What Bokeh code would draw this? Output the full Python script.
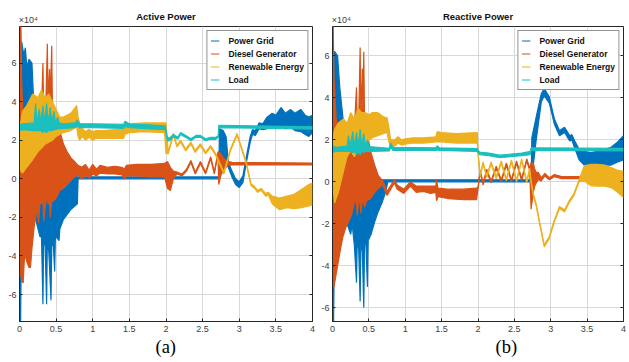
from bokeh.plotting import figure
from bokeh.models import Legend, LegendItem, FixedTicker, LinearAxis, Title
from bokeh.layouts import row
from bokeh.embed import file_html
from bokeh.resources import INLINE

# ---------------- data (values in units of 1e4) ----------------
SERIES_NAMES = ["Power Grid", "Diesel Generator", "Renewable Energy", "Load"]
SERIES_COLORS = ["#0072BD", "#D95319", "#EDB120", "#1BBFBD"]

X_TICKS = [0, 0.5, 1, 1.5, 2, 2.5, 3, 3.5, 4]
X_TICK_LABELS = ["0", "0.5", "1", "1.5", "2", "2.5", "3", "3.5", "4"]
Y_TICKS = [-6, -4, -2, 0, 2, 4, 6]
Y_TICK_LABELS = ["-6", "-4", "-2", "0", "2", "4", "6"]
EXP_LABEL = "×10⁴"

# each entry: (time s, lower envelope, upper envelope)
AP_GRID = [
    (0.00, -7.4, 0.0), (0.015, -7.4, 7.1), (0.03, -2.0, 7.1), (0.06, -2.5, 6.4),
    (0.08, -2.0, 6.8), (0.10, -2.0, 5.8), (0.13, -1.5, 6.2), (0.17, -1.5, 6.0),
    (0.20, -1.8, 3.5), (0.24, -2.4, 2.5), (0.28, -3.0, 2.0), (0.30, -3.0, 1.5),
    (0.32, -6.5, 1.5), (0.33, -3.0, 1.5), (0.35, -3.5, 1.5), (0.37, -6.5, 1.5),
    (0.38, -3.2, 1.5), (0.40, -3.8, 1.5), (0.43, -6.3, 1.5), (0.44, -3.5, 1.5),
    (0.46, -3.3, 1.2), (0.48, -4.8, 1.0), (0.49, -3.0, 1.0), (0.52, -3.1, 0.8),
    (0.54, -3.2, 0.6), (0.55, -2.6, 0.5), (0.60, -2.1, 0.3), (0.70, -1.6, 0.2),
    (0.79, -1.3, 0.1), (0.80, 0.0, 0.1), (2.72, 0.0, 0.1), (2.73, 0.3, 2.6),
    (2.78, 0.6, 2.5), (2.82, 1.0, 2.2), (2.85, 0.6, 0.9), (2.90, 0.1, 0.4),
    (2.95, -0.3, 0.0), (3.00, -0.45, -0.15), (3.05, -0.2, 0.15), (3.10, 0.9, 1.2),
    (3.15, 1.9, 2.2), (3.18, 2.3, 2.55), (3.22, 2.25, 2.5), (3.27, 2.6, 2.9),
    (3.32, 2.55, 2.85), (3.38, 2.6, 3.2), (3.45, 2.7, 3.4), (3.50, 2.6, 3.3),
    (3.57, 2.7, 3.7), (3.63, 2.6, 3.4), (3.70, 2.7, 3.6), (3.76, 2.5, 3.4),
    (3.84, 2.45, 3.6), (3.90, 2.3, 3.3), (3.95, 2.2, 3.2), (4.00, 2.4, 3.3),
]
AP_DIESEL = [
    (0.00, 0.0, 7.9), (0.01, -5.0, 7.9), (0.02, -5.0, 7.9), (0.03, -5.3, 5.0),
    (0.05, -5.4, 3.0), (0.07, -3.9, 2.5), (0.10, -4.3, 2.0), (0.13, -4.6, 3.0),
    (0.15, -4.6, 2.5), (0.17, -3.6, 3.0), (0.20, -2.5, 3.5), (0.24, -1.5, 3.0),
    (0.26, -2.3, 3.2), (0.28, -1.2, 3.5), (0.30, -1.3, 3.5), (0.32, -1.2, 6.0),
    (0.33, -2.2, 3.5), (0.36, -1.2, 4.0), (0.38, -1.1, 7.0), (0.39, -1.3, 4.0),
    (0.41, -1.2, 5.7), (0.42, -2.0, 4.0), (0.44, -1.1, 6.9), (0.45, -1.2, 3.5),
    (0.50, -1.0, 3.0), (0.55, -0.6, 2.5), (0.60, -0.5, 1.8), (0.65, -0.3, 1.4),
    (0.70, -0.1, 1.1), (0.75, 0.1, 0.9), (0.80, 0.2, 0.7), (0.85, 0.0, 0.6),
    (0.90, 0.2, 0.75), (0.95, 0.05, 0.45), (1.00, 0.25, 0.75), (1.05, 0.15, 0.5),
    (1.10, 0.3, 0.7), (1.20, 0.25, 0.6), (1.30, 0.25, 0.65), (1.40, 0.2, 0.6),
    (1.43, 0.0, 0.5), (1.46, 0.15, 0.7), (1.60, 0.15, 0.75), (1.80, 0.1, 0.75),
    (1.98, 0.1, 0.8), (2.02, -0.5, 0.9), (2.06, -0.6, 0.6), (2.10, 0.0, 0.4),
    (2.15, 0.25, 0.35), (2.22, 0.15, 0.25), (2.28, 0.4, 0.5), (2.34, 0.85, 0.95),
    (2.40, 0.25, 0.35), (2.47, 0.8, 0.9), (2.54, 0.25, 0.35), (2.61, 1.05, 1.15),
    (2.66, 0.25, 0.35), (2.71, 1.3, 1.4), (2.72, -0.3, 1.4), (2.75, 0.2, 1.3),
    (2.78, 0.4, 1.1), (2.82, 0.6, 0.95), (2.86, 0.7, 0.9), (2.90, 0.72, 0.85),
    (4.00, 0.72, 0.82),
]
AP_RENEW = [
    (0.00, 0.5, 2.5), (0.04, 0.3, 3.5), (0.10, 0.6, 3.8), (0.18, 1.0, 4.4),
    (0.25, 1.4, 4.2), (0.30, 1.6, 4.6), (0.35, 1.8, 4.2), (0.40, 1.9, 4.4),
    (0.45, 2.0, 4.0), (0.50, 2.2, 3.6), (0.55, 2.3, 3.2), (0.60, 2.4, 3.2),
    (0.70, 2.5, 3.4), (0.78, 2.7, 3.8), (0.80, 2.2, 3.2), (0.82, 2.0, 2.9),
    (0.86, 2.2, 2.6), (0.90, 2.0, 2.45), (0.95, 2.15, 2.55), (1.00, 2.0, 2.45),
    (1.05, 2.1, 2.5), (1.15, 2.1, 2.5), (1.30, 2.1, 2.55), (1.42, 2.1, 2.55),
    (1.44, 2.3, 2.9), (1.50, 2.4, 2.85), (1.70, 2.45, 2.9), (1.98, 2.4, 2.9),
    (2.00, 1.3, 2.9), (2.03, 1.3, 1.4), (2.10, 2.25, 2.35), (2.15, 1.65, 1.75),
    (2.20, 1.9, 2.0), (2.27, 1.45, 1.55), (2.34, 1.8, 1.9), (2.40, 1.37, 1.47),
    (2.47, 1.72, 1.82), (2.54, 1.29, 1.39), (2.61, 1.63, 1.73), (2.68, 1.2, 1.3),
    (2.72, 0.85, 0.95), (2.79, 0.25, 0.35), (2.88, 1.45, 1.55), (2.97, 2.25, 2.35),
    (3.09, 0.85, 0.95), (3.16, -0.35, -0.25), (3.21, -0.5, -0.4), (3.25, -0.7, -0.6),
    (3.30, -0.6, -0.5), (3.36, -0.9, -0.75), (3.40, -0.85, -0.7), (3.45, -1.3, -0.9),
    (3.55, -1.6, -1.0), (3.65, -1.5, -0.9), (3.75, -1.55, -0.8), (3.85, -1.5, -0.55),
    (3.95, -1.4, -0.3), (4.00, -1.35, -0.22),
]
AP_LOAD = [
    (0.00, 2.5, 2.8), (0.05, 2.55, 2.85), (0.20, 2.5, 2.9), (0.22, 2.5, 3.9),
    (0.24, 2.5, 2.9), (0.27, 2.5, 3.6), (0.29, 2.5, 2.9), (0.32, 2.4, 3.8),
    (0.34, 2.5, 2.9), (0.37, 2.4, 3.9), (0.39, 2.5, 2.9), (0.42, 2.5, 3.7),
    (0.44, 2.5, 2.9), (0.47, 2.55, 3.5), (0.49, 2.55, 2.9), (0.52, 2.6, 3.2),
    (0.54, 2.6, 2.9), (0.60, 2.62, 2.85), (0.76, 2.65, 2.9), (0.79, 2.75, 3.05),
    (0.82, 2.65, 2.85), (1.00, 2.65, 2.85), (1.42, 2.62, 2.82), (1.44, 2.72, 2.98),
    (1.50, 2.65, 2.85), (1.99, 2.55, 2.75), (2.02, 1.95, 2.1), (2.06, 2.0, 2.15),
    (2.10, 2.2, 2.3), (2.16, 2.05, 2.15), (2.20, 2.3, 2.4), (2.27, 2.15, 2.25),
    (2.34, 1.98, 2.08), (2.41, 2.15, 2.25), (2.47, 2.15, 2.25), (2.54, 1.98, 2.08),
    (2.61, 2.05, 2.15), (2.68, 2.05, 2.15), (2.715, 2.15, 2.25), (2.72, 2.65, 2.77),
    (4.00, 2.58, 2.7),
]

RP_GRID = [
    (0.00, -6.65, 0.0), (0.015, -6.65, 6.2), (0.03, -2.0, 6.2), (0.07, -1.5, 6.0),
    (0.10, -1.5, 4.5), (0.13, -1.5, 3.5), (0.16, -2.0, 2.5), (0.20, -2.0, 2.0),
    (0.25, -2.5, 1.5), (0.27, -2.0, 1.5), (0.30, -3.0, 1.2), (0.33, -4.8, 1.0),
    (0.34, -2.8, 1.0), (0.36, -3.2, 1.0), (0.38, -5.7, 1.0), (0.39, -3.0, 1.0),
    (0.41, -3.3, 0.8), (0.43, -6.0, 0.8), (0.44, -3.0, 0.8), (0.46, -3.0, 0.6),
    (0.48, -5.0, 0.5), (0.49, -2.8, 0.5), (0.53, -2.5, 0.4), (0.58, -1.9, 0.3),
    (0.62, -1.5, 0.2), (0.68, -1.0, 0.1), (0.73, -0.5, 0.1), (0.76, 0.0, 0.1),
    (2.73, 0.0, 0.1), (2.74, 0.2, 2.1), (2.80, 2.0, 3.1), (2.87, 3.8, 4.2),
    (2.91, 4.1, 4.45), (2.98, 3.75, 4.05), (3.05, 2.75, 3.0), (3.12, 2.2, 2.45),
    (3.19, 2.35, 2.6), (3.26, 1.95, 2.2), (3.29, 2.0, 2.25), (3.33, 1.6, 1.95),
    (3.39, 1.05, 1.55), (3.46, 0.8, 1.45), (3.55, 0.85, 1.4), (3.64, 0.85, 1.45),
    (3.74, 0.8, 1.55), (3.83, 0.8, 1.65), (3.92, 0.95, 1.9), (4.00, 1.05, 2.2),
]
RP_DIESEL = [
    (0.00, 0.0, 7.4), (0.01, -5.0, 7.4), (0.02, -5.0, 5.0), (0.05, -4.4, 3.0),
    (0.08, -3.8, 2.5), (0.11, -3.2, 2.0), (0.14, -2.65, 2.5), (0.18, -2.2, 2.0),
    (0.22, -1.9, 2.5), (0.26, -1.6, 2.0), (0.30, -1.0, 2.5), (0.33, -1.0, 4.5),
    (0.34, -1.6, 2.5), (0.36, -0.9, 3.0), (0.38, -1.0, 6.4), (0.39, -1.5, 3.0),
    (0.41, -0.9, 5.4), (0.42, -1.0, 3.2), (0.43, -0.9, 6.2), (0.44, -1.2, 3.0),
    (0.47, -0.9, 2.5), (0.52, -0.8, 1.5), (0.58, -0.5, 0.8), (0.63, -0.3, 0.3),
    (0.69, -0.15, 0.05), (0.75, -0.65, -0.45), (0.85, -0.05, 0.1), (0.89, -0.35, -0.15),
    (0.98, -0.55, -0.35), (1.07, -0.2, 0.0), (1.15, -0.5, -0.2), (1.25, -0.45, -0.2),
    (1.35, -0.55, -0.2), (1.42, -0.5, -0.2), (1.43, -0.9, 0.1), (1.45, -0.7, -0.3),
    (1.60, -0.8, -0.35), (1.80, -0.85, -0.35), (1.98, -0.85, -0.3), (2.00, -0.35, -0.25),
    (2.03, 0.45, 0.55), (2.07, -0.15, -0.05), (2.12, 0.5, 0.6), (2.18, -0.05, 0.05),
    (2.25, 0.65, 0.75), (2.32, 0.0, 0.1), (2.39, 0.8, 0.9), (2.46, 0.0, 0.1),
    (2.53, 0.9, 1.0), (2.60, 0.05, 0.15), (2.67, 1.0, 1.1), (2.71, 0.55, 0.65),
    (2.73, -1.3, 0.9), (2.76, -0.5, 0.9), (2.78, -0.2, 0.6), (2.80, -0.05, 0.45),
    (2.83, 0.1, 0.45), (2.87, 0.05, 0.2), (2.92, 0.28, 0.4), (2.98, 0.1, 0.2),
    (3.05, 0.25, 0.35), (3.15, 0.15, 0.25), (4.00, 0.15, 0.25),
]
RP_RENEW = [
    (0.00, 0.0, 2.0), (0.03, -1.0, 2.5), (0.08, -0.5, 2.8), (0.15, 0.5, 3.0),
    (0.20, 1.2, 2.8), (0.25, 1.5, 3.3), (0.30, 1.2, 3.0), (0.35, 1.5, 3.5),
    (0.40, 1.6, 3.3), (0.45, 1.8, 3.3), (0.50, 2.0, 3.2), (0.55, 2.1, 3.3),
    (0.62, 2.2, 3.3), (0.70, 2.3, 3.1), (0.75, 2.35, 3.05), (0.77, 2.0, 2.7),
    (0.80, 1.6, 2.0), (0.85, 1.7, 2.0), (0.90, 1.85, 2.15), (0.95, 1.75, 2.0),
    (1.00, 1.8, 2.05), (1.10, 1.85, 2.1), (1.25, 1.85, 2.1), (1.42, 1.9, 2.15),
    (1.44, 1.9, 2.4), (1.50, 1.9, 2.35), (1.70, 1.85, 2.3), (1.99, 1.85, 2.35),
    (2.00, 1.35, 1.45), (2.03, 0.25, 0.35), (2.07, 0.85, 0.95), (2.12, 0.2, 0.3),
    (2.18, 0.85, 0.95), (2.25, 0.15, 0.25), (2.32, 0.9, 1.0), (2.39, 0.05, 0.15),
    (2.46, 0.95, 1.05), (2.53, 0.0, 0.1), (2.60, 1.0, 1.1), (2.67, -0.05, 0.05),
    (2.71, 0.55, 0.65), (2.73, -0.05, 0.05), (2.76, -0.65, -0.55), (2.80, -1.15, -1.05),
    (2.85, -2.05, -1.95), (2.91, -3.1, -3.0), (2.98, -2.7, -2.6), (3.05, -1.9, -1.8),
    (3.12, -1.27, -1.17), (3.19, -1.43, -1.33), (3.26, -0.95, -0.85), (3.32, -0.64, -0.54),
    (3.39, 0.0, 0.1), (3.46, 0.05, 0.76), (3.55, -0.19, 0.84), (3.64, -0.2, 0.84),
    (3.74, -0.2, 0.8), (3.83, -0.27, 0.68), (3.92, -0.5, 0.55), (4.00, -0.75, 0.5),
]
RP_LOAD = [
    (0.00, 1.4, 1.7), (0.05, 1.45, 1.65), (0.20, 1.45, 1.7), (0.22, 1.45, 2.2),
    (0.24, 1.45, 1.7), (0.28, 1.4, 2.4), (0.30, 1.45, 1.7), (0.33, 1.3, 2.35),
    (0.35, 1.45, 1.7), (0.38, 1.3, 2.5), (0.40, 1.45, 1.7), (0.43, 1.4, 2.3),
    (0.45, 1.45, 1.7), (0.48, 1.45, 2.0), (0.50, 1.45, 1.68), (0.78, 1.47, 1.6),
    (0.80, 1.65, 1.85), (0.83, 1.5, 1.65), (1.42, 1.5, 1.62), (1.44, 1.52, 1.72),
    (1.47, 1.5, 1.62), (1.99, 1.45, 1.58), (2.02, 1.3, 1.42), (2.15, 1.25, 1.37),
    (2.30, 1.15, 1.27), (2.45, 1.2, 1.32), (2.60, 1.25, 1.37), (2.72, 1.3, 1.45),
    (2.73, 1.5, 1.62), (4.00, 1.48, 1.6),
]

AP_Y_RANGE = (-7.4, 7.9)
RP_Y_RANGE = (-6.65, 7.4)

FONT = "Liberation Sans"
TICK_COLOR = "#404040"


def make_panel(title, series_list, y_range, width, border_left, border_right,
               sub_text, sub_offset):
    p = figure(width=width, height=362, x_range=(0, 4), y_range=y_range,
               output_backend="svg", toolbar_location=None,
               min_border_left=border_left, min_border_right=border_right,
               min_border_top=26, min_border_bottom=41)
    p.background_fill_color = "white"
    p.border_fill_color = "white"
    p.outline_line_color = "#262626"
    p.outline_line_width = 1

    p.xaxis.ticker = FixedTicker(ticks=X_TICKS)
    p.xaxis.major_label_overrides = {t: l for t, l in zip(X_TICKS, X_TICK_LABELS)}
    p.yaxis.ticker = FixedTicker(ticks=Y_TICKS)
    p.yaxis.major_label_overrides = {t: l for t, l in zip(Y_TICKS, Y_TICK_LABELS)}
    for ax in (p.xaxis, p.yaxis):
        ax.major_label_text_font = FONT
        ax.major_label_text_font_size = "9px"
        ax.major_label_text_color = TICK_COLOR
        ax.axis_line_color = "#262626"
        ax.major_tick_line_color = "#262626"
        ax.major_tick_in = 3
        ax.major_tick_out = 0
        ax.minor_tick_line_color = None
    p.xaxis.major_label_standoff = 4
    p.yaxis.major_label_standoff = 3

    # right-hand box ticks (no labels), as in a boxed MATLAB axes
    right = LinearAxis(ticker=FixedTicker(ticks=Y_TICKS),
                       major_label_overrides={t: "" for t in Y_TICKS})
    right.axis_line_color = None
    right.major_tick_line_color = "#262626"
    right.major_tick_in = 3
    right.major_tick_out = 0
    right.minor_tick_line_color = None
    right.major_label_standoff = 0
    p.add_layout(right, "right")

    # top axis: exponent marker as tick label, panel title as axis label
    top = LinearAxis(ticker=FixedTicker(ticks=[0.12]),
                     major_label_overrides={0.12: EXP_LABEL})
    top.axis_line_color = None
    top.major_tick_line_color = None
    top.minor_tick_line_color = None
    top.major_tick_in = 0
    top.major_tick_out = 0
    top.major_label_standoff = 2
    top.major_label_text_font = FONT
    top.major_label_text_font_size = "9px"
    top.major_label_text_color = TICK_COLOR
    top.axis_label = title
    top.axis_label_standoff = -10
    top.axis_label_text_font = FONT
    top.axis_label_text_font_size = "9.5px"
    top.axis_label_text_font_style = "bold"
    top.axis_label_text_color = "#111111"
    p.add_layout(top, "above")

    p.xgrid.ticker = FixedTicker(ticks=X_TICKS)
    p.ygrid.ticker = FixedTicker(ticks=Y_TICKS)
    p.grid.grid_line_color = "#d8d8d8"
    p.grid.grid_line_width = 1

    items = []
    for name, color, data in zip(SERIES_NAMES, SERIES_COLORS, series_list):
        t = [d[0] for d in data]
        lo = [d[1] for d in data]
        hi = [d[2] for d in data]
        p.varea(x=t, y1=lo, y2=hi, fill_color=color, fill_alpha=1.0)
        p.line(t, lo, line_color=color, line_width=1.2)
        r = p.line(t, hi, line_color=color, line_width=1.2)
        items.append(LegendItem(label=name, renderers=[r]))

    legend = Legend(items=items, location="top_right")
    legend.margin = 4
    legend.padding = 3
    legend.spacing = 0
    legend.label_height = 13
    legend.glyph_height = 13
    legend.glyph_width = 9
    legend.label_standoff = 9
    legend.label_text_font = FONT
    legend.label_text_font_size = "8.5px"
    legend.label_text_font_style = "bold"
    legend.label_text_color = "#111111"
    legend.border_line_color = "#262626"
    legend.border_line_width = 1
    legend.background_fill_color = "white"
    legend.background_fill_alpha = 1.0
    p.add_layout(legend)

    sub = Title(text=sub_text, align="left", offset=sub_offset,
                text_font="Liberation Serif", text_font_size="18.5px",
                text_font_style="normal", text_color="black", standoff=1)
    p.add_layout(sub, "below")
    return p


p1 = make_panel("Active Power", [AP_GRID, AP_DIESEL, AP_RENEW, AP_LOAD],
                AP_Y_RANGE, 318, 19, 6, "(a)", 136)
p2 = make_panel("Reactive Power", [RP_GRID, RP_DIESEL, RP_RENEW, RP_LOAD],
                RP_Y_RANGE, 311, 13, 6, "(b)", 163)

layout = row(p1, p2)
open("out.html", "w").write(file_html(layout, INLINE))
